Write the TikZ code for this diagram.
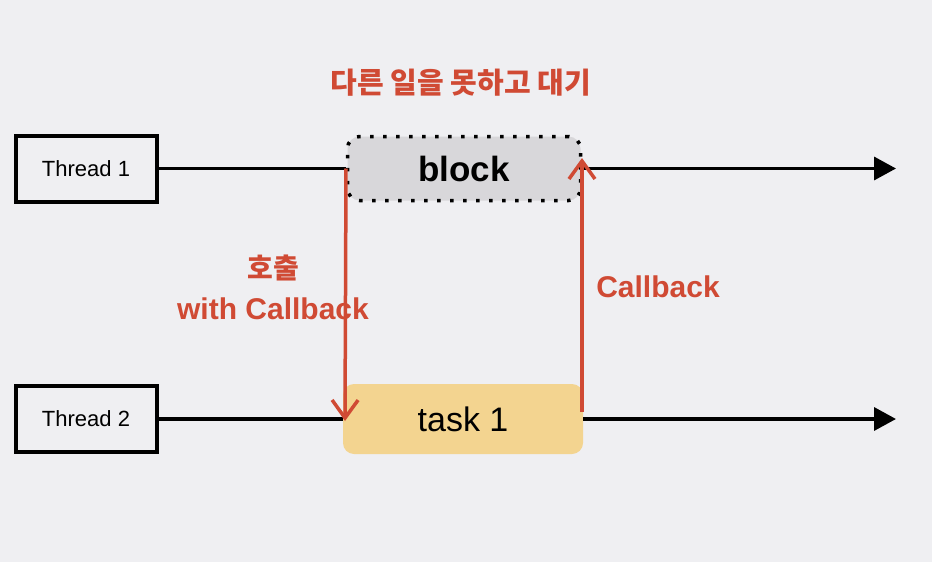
\documentclass[tikz,border=0pt]{standalone}
\usepackage{fontspec}
\setmainfont{Liberation Sans}
\newfontfamily\kr{Noto Sans CJK KR}
\usetikzlibrary{arrows.meta}
\definecolor{bgc}{RGB}{239,239,242}
\definecolor{redc}{RGB}{208,74,52}
\definecolor{blockc}{RGB}{216,215,218}
\definecolor{taskc}{RGB}{243,212,144}
\begin{document}
\begin{tikzpicture}[x=1pt,y=-1pt,
  threadbox/.style={draw=black,line width=4pt,fill=bgc,minimum width=141pt,minimum height=66pt,inner sep=0pt,font=\fontsize{22}{26}\selectfont},
  tline/.style={line width=3.5pt,black},
  tarrow/.style={tline,-{Triangle[length=22pt,width=23pt]}},
  redline/.style={line width=3.5pt,redc},
  redarrow/.style={redline,-{Straight Barb[length=18pt,width=26pt,line width=3.5pt]}},
  redlabel/.style={text=redc,font=\fontsize{30}{34}\selectfont\bfseries,align=center,inner sep=0pt}]
\fill[bgc] (0,0) rectangle (932,562);
\useasboundingbox (0,0) rectangle (932,562);
% thread boxes
\node[threadbox] (t1) at (86,168.5) {Thread 1};
\node[threadbox] (t2) at (86,419) {Thread 2};
% block and task
\node[draw=black,line width=3.5pt,dash pattern=on 3.5pt off 9.5pt,rounded corners=12pt,fill=blockc,minimum width=233pt,minimum height=64pt,inner sep=0pt,font=\fontsize{35}{40}\selectfont\bfseries] (block) at (464,168.5) {block};
\node[fill=taskc,rounded corners=11pt,minimum width=240pt,minimum height=70pt,inner sep=0pt,font=\fontsize{34}{38}\selectfont] (task) at (463,419) {task 1};
% end coordinates
\coordinate (e1) at (896,168.5);
\coordinate (e2) at (896,419);
% thread lines
\draw[tline] (t1.east) -- (block.west);
\draw[tarrow] (block.east) -- (e1);
\draw[tline] (t2.east) -- (task.west);
\draw[tarrow] (task.east) -- (e2);
% red connectors
\coordinate (callstart) at (346,168.5);
\coordinate (callend) at (345,421);
\coordinate (cbstart) at (582,412);
\coordinate (cbend) at (582,158);
\draw[redarrow] (callstart) -- (callend);
\draw[redarrow] (cbstart) -- (cbend);
% labels
\node[redlabel] (title) at (461,83) {\kr\fontsize{29}{32}\selectfont\bfseries 다른 일을 못하고 대기};
\node[redlabel] (call) at (273,268) {\kr\fontsize{28}{30}\selectfont\bfseries 호출};
\node[redlabel] (with) at (273,309) {with Callback};
\node[redlabel] (cb) at (658,287) {Callback};
\end{tikzpicture}
\end{document}
